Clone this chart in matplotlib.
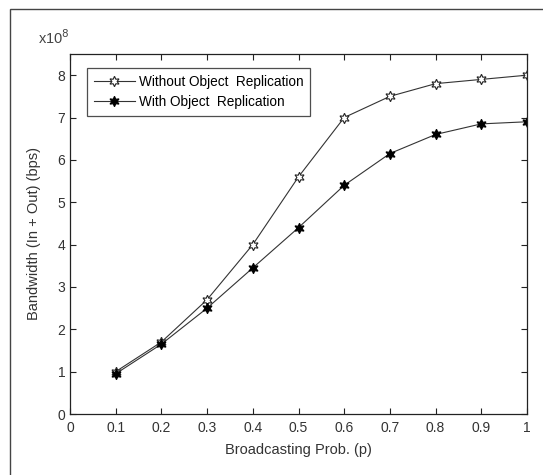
import numpy as np
import matplotlib.pyplot as plt
from matplotlib.patches import Rectangle

plt.rcParams["font.family"] = ["Liberation Sans", "DejaVu Sans"]

prob = [0.1, 0.2, 0.3, 0.4, 0.5, 0.6, 0.7, 0.8, 0.9, 1.0]
without_repl = [1.0, 1.7, 2.7, 4.0, 5.6, 7.0, 7.5, 7.8, 7.9, 8.0]      # x1e8 bps
with_repl = [0.95, 1.65, 2.5, 3.45, 4.4, 5.4, 6.15, 6.6, 6.85, 6.9]   # x1e8 bps
xticks = [0, 0.1, 0.2, 0.3, 0.4, 0.5, 0.6, 0.7, 0.8, 0.9, 1]
xticklabels = ["0", "0.1", "0.2", "0.3", "0.4", "0.5", "0.6", "0.7", "0.8", "0.9", "1"]

fig = plt.figure(figsize=(5.43, 4.75), dpi=100)
ax = fig.add_axes([70 / 543, 1 - 414 / 475, 457 / 543, 360 / 475])

# frame around the figure (left and top edges visible in the original)
fig.patches.append(Rectangle((10 / 543, -0.1), 1.2, 1 - 9 / 475 + 0.1,
                             transform=fig.transFigure, fill=False,
                             edgecolor="#444444", linewidth=1.0))

hexagram = (6, 1, 0)
ax.plot(prob, without_repl, color="#333333", linewidth=0.8, marker=hexagram,
        markersize=7.5, markerfacecolor="white", markeredgecolor="#222222",
        markeredgewidth=0.8, label="Without Object  Replication")
ax.plot(prob, with_repl, color="#333333", linewidth=0.8, marker=hexagram,
        markersize=7.5, markerfacecolor="black", markeredgecolor="black",
        markeredgewidth=0.8, label="With Object  Replication")

ax.set_xlim(0, 1)
ax.set_ylim(0, 8.5)
ax.set_xticks(xticks)
ax.set_xticklabels(xticklabels)
ax.set_yticks(range(0, 9))
ax.tick_params(direction="in", top=True, right=True, labelsize=10,
               length=4, width=0.8, colors="#222222", labelcolor="#333333")
ax.tick_params(axis="x", pad=5)
for s in ax.spines.values():
    s.set_linewidth(0.9)
    s.set_color("#222222")

ax.set_xlabel("Broadcasting Prob. (p)", fontsize=10.5, color="#333333", labelpad=6)
ax.set_ylabel("Bandwidth (In + Out) (bps)", fontsize=10.5, color="#333333", labelpad=12)
ax.text(0.0, 1.02, r"x10$^{8}$", transform=ax.transAxes, ha="right", va="bottom",
        fontsize=10.5, color="#444444")

leg = ax.legend(loc="upper left", bbox_to_anchor=(0.037, 0.961), borderaxespad=0,
                fontsize=9.8, frameon=True, fancybox=False, edgecolor="#222222",
                handlelength=3.0, borderpad=0.5, labelspacing=0.45, handletextpad=0.3)
leg.get_frame().set_linewidth(0.9)

fig.savefig("out.png", dpi=100, facecolor="white")
